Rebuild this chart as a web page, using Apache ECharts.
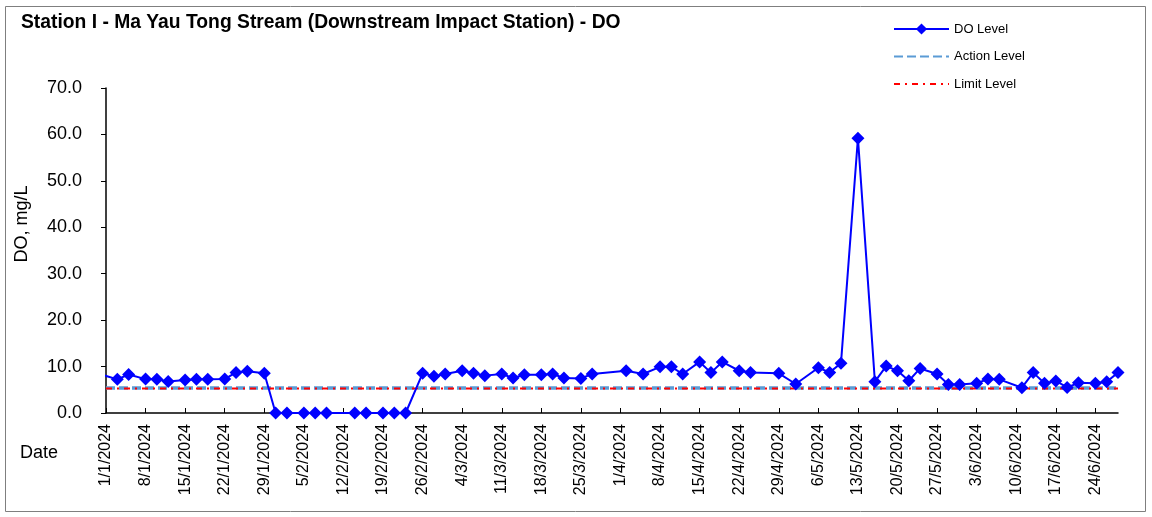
<!DOCTYPE html>
<html>
<head>
<meta charset="utf-8">
<script src="https://cdn.jsdelivr.net/npm/echarts@6/dist/echarts.min.js"></script>
<style>
  html, body { margin: 0; padding: 0; background: #ffffff; }
  #chart { width: 1152px; height: 517px; }
</style>
</head>
<body>
<div id="chart"></div>
<script>
// Sampling dates (d/m/yyyy) and measured dissolved oxygen, mg/L
const sampleDates = [
  '29/12/2023',
  '3/1/2024', '5/1/2024', '8/1/2024', '10/1/2024', '12/1/2024', '15/1/2024', '17/1/2024',
  '19/1/2024', '22/1/2024', '24/1/2024', '26/1/2024', '29/1/2024', '31/1/2024',
  '2/2/2024', '5/2/2024', '7/2/2024', '9/2/2024', '14/2/2024', '16/2/2024', '19/2/2024',
  '21/2/2024', '23/2/2024', '26/2/2024', '28/2/2024',
  '1/3/2024', '4/3/2024', '6/3/2024', '8/3/2024', '11/3/2024', '13/3/2024', '15/3/2024',
  '18/3/2024', '20/3/2024', '22/3/2024', '25/3/2024', '27/3/2024',
  '2/4/2024', '5/4/2024', '8/4/2024', '10/4/2024', '12/4/2024', '15/4/2024', '17/4/2024',
  '19/4/2024', '22/4/2024', '24/4/2024', '29/4/2024',
  '2/5/2024', '6/5/2024', '8/5/2024', '10/5/2024', '13/5/2024', '16/5/2024', '18/5/2024',
  '20/5/2024', '22/5/2024', '24/5/2024', '27/5/2024', '29/5/2024', '31/5/2024',
  '3/6/2024', '5/6/2024', '7/6/2024', '11/6/2024', '13/6/2024', '15/6/2024', '17/6/2024',
  '19/6/2024', '21/6/2024', '24/6/2024', '26/6/2024', '28/6/2024'
];
const doLevel = [
  9.1,
  7.25, 8.3, 7.3, 7.25, 6.8, 7.1, 7.25,
  7.25, 7.3, 8.75, 9.0, 8.55, 0,
  0, 0, 0, 0, 0, 0, 0,
  0, 0, 8.55, 7.9,
  8.4, 9.1, 8.55, 8.05, 8.4, 7.55, 8.25,
  8.25, 8.4, 7.55, 7.45, 8.4,
  9.1, 8.4, 9.95, 9.95, 8.4, 11.0, 8.7,
  11.0, 9.1, 8.7, 8.55,
  6.25, 9.75, 8.75, 10.7, 59.2, 6.75, 10.1,
  9.1, 6.95, 9.6, 8.4, 6.15, 6.15,
  6.4, 7.3, 7.25, 5.45, 8.7, 6.4, 6.9,
  5.5, 6.5, 6.4, 6.75, 8.7
];

// Compliance criteria over the reporting period
const levelDates = ['1/1/2024', '28/6/2024'];
const actionLevel = [5.4, 5.4];
const limitLevel = [5.3, 5.3];

// Axis settings
const axisStart = '1/1/2024';
const axisEnd = '28/6/2024';
const tickDays = 7;
const yTicks = [0, 10, 20, 30, 40, 50, 60, 70];

const DAY = 86400000;
function toUTC(s) {
  const p = s.split('/').map(Number);
  return Date.UTC(p[2], p[1] - 1, p[0]);
}
const origin = toUTC(axisStart);
function dayIndex(s) { return Math.round((toUTC(s) - origin) / DAY); }
function dayLabel(d) {
  const dt = new Date(origin + d * DAY);
  return dt.getUTCDate() + '/' + (dt.getUTCMonth() + 1) + '/' + dt.getUTCFullYear();
}

const FONT = '"Liberation Sans", Arial, Helvetica, sans-serif';
const doData = sampleDates.map((d, i) => [dayIndex(d), doLevel[i]]);
const actionData = levelDates.map((d, i) => [dayIndex(d), actionLevel[i]]);
const limitData = levelDates.map((d, i) => [dayIndex(d), limitLevel[i]]);

const chart = echarts.init(document.getElementById('chart'), null, { renderer: 'canvas' });
chart.setOption({
  backgroundColor: '#ffffff',
  animation: false,
  textStyle: { fontFamily: FONT, color: '#000' },
  title: {
    text: 'Station I - Ma Yau Tong Stream (Downstream Impact Station) - DO',
    left: 21, top: 13,
    padding: 0,
    textStyle: { fontFamily: FONT, fontSize: 19.3, fontWeight: 'bold', color: '#000' }
  },
  legend: {
    orient: 'vertical',
    left: 893, top: 22,
    padding: 0,
    itemWidth: 55, itemHeight: 14, itemGap: 13.5,
    textStyle: { fontFamily: FONT, fontSize: 13, color: '#000', lineHeight: 14 },
    data: [
      { name: 'DO Level', itemStyle: { borderWidth: 0 } },
      { name: 'Action Level', itemStyle: { opacity: 0 } },
      { name: 'Limit Level', itemStyle: { opacity: 0 } }
    ]
  },
  grid: {
    left: 106, right: 34, top: 88, bottom: 104,
    containLabel: false,
    outerBoundsMode: 'none'
  },
  graphic: [
    {
      type: 'rect', silent: true,
      shape: { x: 5.5, y: 6.5, width: 1140, height: 505 },
      style: { fill: 'none', stroke: '#7f7f7f', lineWidth: 1 }
    },
    {
      type: 'text', left: 20, top: 444,
      style: { text: 'Date', font: '18px ' + FONT, fill: '#000' }
    },
    {
      type: 'text', x: 22, y: 224, rotation: Math.PI / 2,
      style: {
        text: 'DO, mg/L', font: '18px ' + FONT, fill: '#000',
        align: 'center', verticalAlign: 'middle'
      }
    }
  ],
  xAxis: {
    type: 'value',
    min: dayIndex(axisStart), max: dayIndex(axisEnd),
    interval: tickDays,
    axisLine: { show: true, onZero: false, lineStyle: { color: '#000', width: 1.5 } },
    axisTick: { show: true, inside: true, length: 5, lineStyle: { color: '#000' } },
    splitLine: { show: false },
    axisLabel: {
      rotate: 90, margin: 11, fontSize: 16, fontFamily: FONT, color: '#000',
      showMaxLabel: false,
      formatter: v => (v % tickDays === 0 ? dayLabel(v) : '')
    }
  },
  yAxis: {
    type: 'value',
    min: yTicks[0], max: yTicks[yTicks.length - 1],
    interval: yTicks[1] - yTicks[0],
    axisLine: { show: true, lineStyle: { color: '#000', width: 1.5 } },
    axisTick: { show: true, inside: false, length: 5, lineStyle: { color: '#000' } },
    splitLine: { show: false },
    axisLabel: {
      margin: 24, fontSize: 18, fontFamily: FONT, color: '#000',
      formatter: v => v.toFixed(1)
    }
  },
  series: [
    {
      name: 'DO Level',
      type: 'line',
      data: doData,
      clip: true,
      symbol: 'diamond',
      symbolSize: 13,
      showAllSymbol: true,
      z: 5,
      lineStyle: { color: '#0000ff', width: 2 },
      itemStyle: { color: '#0000ff' }
    },
    {
      name: 'Action Level',
      type: 'line',
      data: actionData,
      symbol: 'none',
      z: 3,
      lineStyle: { color: '#5b9bd5', width: 3.5, type: [9, 4] },
      itemStyle: { color: '#5b9bd5' }
    },
    {
      name: 'Limit Level',
      type: 'line',
      data: limitData,
      symbol: 'none',
      z: 4,
      lineStyle: { color: '#ff0000', width: 2, type: [6, 5, 2, 5] },
      itemStyle: { color: '#ff0000' }
    }
  ]
});
</script>
</body>
</html>
